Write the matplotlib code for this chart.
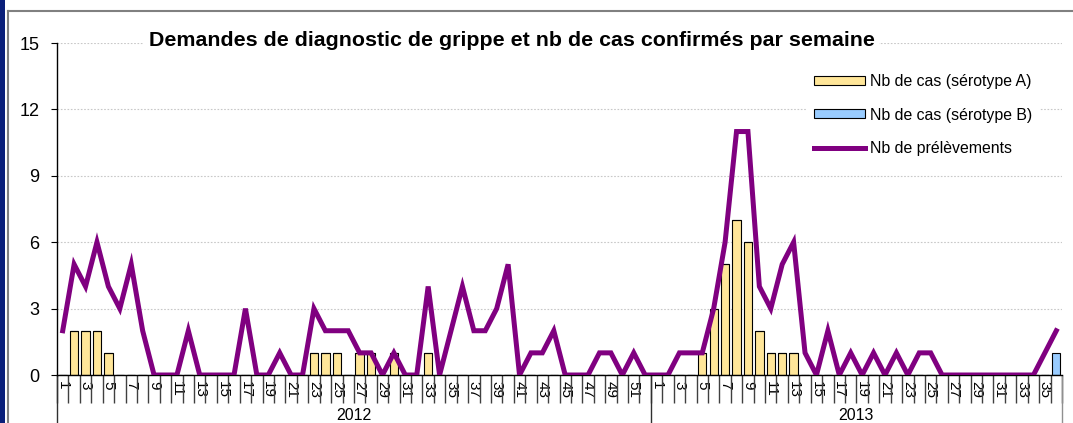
import matplotlib
matplotlib.use("Agg")
import matplotlib.pyplot as plt
import matplotlib.lines as mlines
import matplotlib.patches as mpatches
import matplotlib.transforms as mtransforms
import numpy as np

plt.rcParams['font.family'] = ['Liberation Sans', 'DejaVu Sans']

# --- data ---
years = ["2012", "2013"]
weeks_2012 = list(range(1, 53))
weeks_2013 = list(range(1, 37))

prelevements_2012 = [2, 5, 4, 6, 4, 3, 5, 2, 0, 0,
                     0, 2, 0, 0, 0, 0, 3, 0, 0, 1,
                     0, 0, 3, 2, 2, 2, 1, 1, 0, 1,
                     0, 0, 4, 0, 2, 4, 2, 2, 3, 5,
                     0, 1, 1, 2, 0, 0, 0, 1, 1, 0,
                     1, 0]
prelevements_2013 = [0, 0, 1, 1, 1, 3, 6, 11, 11, 4,
                     3, 5, 6, 1, 0, 2, 0, 1, 0, 1,
                     0, 1, 0, 1, 1, 0, 0, 0, 0, 0,
                     0, 0, 0, 0, 1, 2]

cas_A_2012 = [0, 2, 2, 2, 1, 0, 0, 0, 0, 0,
              0, 0, 0, 0, 0, 0, 0, 0, 0, 0,
              0, 0, 1, 1, 1, 0, 1, 1, 0, 1,
              0, 0, 1, 0, 0, 0, 0, 0, 0, 0,
              0, 0, 0, 0, 0, 0, 0, 0, 0, 0,
              0, 0]
cas_A_2013 = [0, 0, 0, 0, 1, 3, 5, 7, 6, 2,
              1, 1, 1, 0, 0, 0, 0, 0, 0, 0,
              0, 0, 0, 0, 0, 0, 0, 0, 0, 0,
              0, 0, 0, 0, 0, 0]
cas_B_2012 = [0] * 52
cas_B_2013 = [0, 0, 0, 0, 0, 0, 0, 0, 0, 0,
              0, 0, 0, 0, 0, 0, 0, 0, 0, 0,
              0, 0, 0, 0, 0, 0, 0, 0, 0, 0,
              0, 0, 0, 0, 0, 1]

title = "Demandes de diagnostic de grippe et nb de cas confirmés par semaine"
label_A = "Nb de cas (sérotype A)"
label_B = "Nb de cas (sérotype B)"
label_line = "Nb de prélèvements"

# --- colours ---
col_A = "#FFE699"
col_B = "#99CCFF"
col_line = "#800080"

W, H = 1073, 423
fig = plt.figure(figsize=(W / 100, H / 100), dpi=100)
fig.patch.set_facecolor("white")

# frame decorations (slide border)
fig.patches.append(mpatches.Rectangle((0, 0), 5 / W, 1, transform=fig.transFigure,
                                      facecolor="#0a1f7a", edgecolor="none"))
fig.lines.append(mlines.Line2D([8 / W, 8 / W], [0, 1 - 11 / H], transform=fig.transFigure,
                               color="#808080", lw=1.5))
fig.lines.append(mlines.Line2D([8 / W, 1], [1 - 11 / H, 1 - 11 / H], transform=fig.transFigure,
                               color="#808080", lw=1.5))

ax = fig.add_axes([57 / W, 1 - 375 / H, (1062 - 57) / W, (375 - 43) / H])

prelevements = prelevements_2012 + prelevements_2013
cas_A = cas_A_2012 + cas_A_2013
cas_B = cas_B_2012 + cas_B_2013
week_labels = weeks_2012 + weeks_2013
n = len(week_labels)
x = np.arange(n)

bars_A = ax.bar(x, cas_A, width=0.73, color=col_A, edgecolor="black", linewidth=0.8,
                label=label_A, zorder=2)
bars_B = ax.bar(x, cas_B, width=0.73, bottom=cas_A, color=col_B, edgecolor="black",
                linewidth=0.8, label=label_B, zorder=2)
line, = ax.plot(x, prelevements, color=col_line, lw=3.6, solid_joinstyle="miter",
                label=label_line, zorder=3)

ax.set_xlim(-0.5, n - 0.5)
ax.set_ylim(0, 15)
ax.set_yticks(range(0, 16, 3))
ax.yaxis.grid(True, color="#c8c8c8", linestyle=(0, (1.5, 1.5)), lw=0.8)
ax.set_axisbelow(True)
ax.tick_params(axis="y", labelsize=13, length=4, width=0.8, pad=8.5, direction="out")

for s in ["top", "right"]:
    ax.spines[s].set_visible(False)
ax.spines["left"].set_linewidth(1.0)
ax.spines["bottom"].set_linewidth(1.0)

# odd week labels, rotated
tick_pos = [i for i in x if week_labels[i] % 2 == 1]
ax.set_xticks(tick_pos)
ax.set_xticklabels([str(week_labels[i]) for i in tick_pos], rotation=-90,
                   fontsize=11, va="top", ha="center")
ax.tick_params(axis="x", length=0, pad=4)

# category boundary lines
trans = mtransforms.blended_transform_factory(ax.transData, ax.transAxes)
bounds = np.arange(n + 1) - 0.5
ax.vlines(bounds, -0.085, 0, transform=trans, colors="#404040", lw=1.0, clip_on=False)
# year separators
n12 = len(weeks_2012)
ax.vlines([-0.5, n12 - 0.5], -0.16, 0, transform=trans, colors="#303030", lw=1.0, clip_on=False)
ax.vlines([n - 0.5], -0.16, 0, transform=trans, colors="#909090", lw=1.0, clip_on=False)

# year labels
ax.text((n12 - 1) / 2, -0.099, years[0], transform=trans, ha="center", va="top", fontsize=11.5)
ax.text(n12 + (len(weeks_2013) - 1) / 2, -0.099, years[1], transform=trans,
        ha="center", va="top", fontsize=11.5)

# title
fig.text(511.5 / W, 1 - 40 / H, title, ha="center", va="center", fontsize=15.4,
         fontweight="bold", bbox=dict(facecolor="white", edgecolor="none", pad=3))

# legend
leg = ax.legend(handles=[bars_A, bars_B, line], labels=[label_A, label_B, label_line],
                loc="upper left", bbox_to_anchor=(806 / W, 1 - 66 / H),
                bbox_transform=fig.transFigure, fontsize=11.4, frameon=True,
                fancybox=False, framealpha=1, facecolor="white", edgecolor="none",
                handlelength=3.2, handleheight=0.5, handletextpad=0.35,
                labelspacing=1.18, borderpad=0.5, borderaxespad=0)

fig.savefig("out.png", dpi=100)
